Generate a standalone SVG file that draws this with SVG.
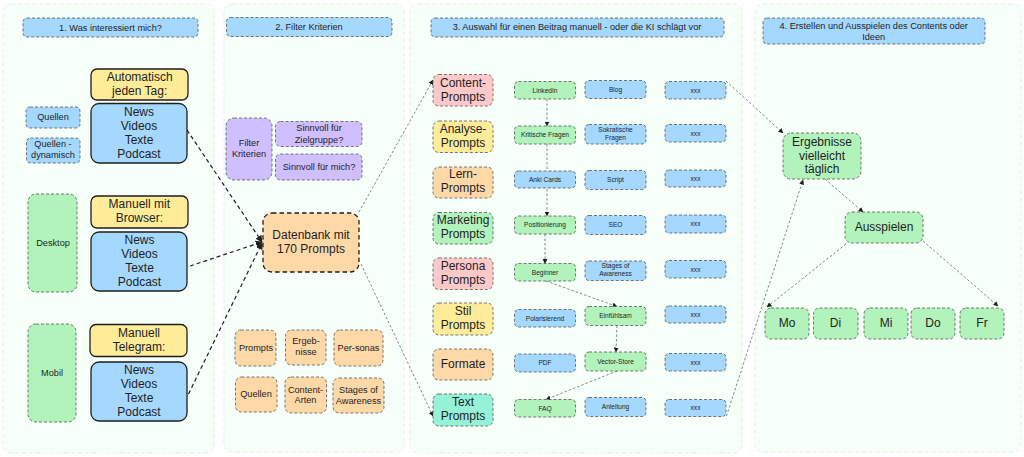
<svg xmlns="http://www.w3.org/2000/svg" width="1024" height="457" viewBox="0 0 1024 457">
<defs>
<style>
text{font-family:"Liberation Sans",Arial,sans-serif;fill:#1e1e1e;text-anchor:middle}
.l{font-size:12px}.m{font-size:9.2px}.s{font-size:6.6px}
.panel{fill:#f6fff8;stroke:#dfe8e2;stroke-width:.8;stroke-dasharray:4 3}
.d{stroke:#555;stroke-width:.8;stroke-dasharray:3 2}
.solid{stroke:#1e1e1e;stroke-width:1.3}
.bold{stroke:#1e1e1e;stroke-width:1.3;stroke-dasharray:4.5 3}
.blue{fill:#a5d8ff}.green{fill:#b2f2bb}.yellow{fill:#ffec99}.orange{fill:#ffd8a8}.pink{fill:#ffc9c9}.purple{fill:#d0bfff}.teal{fill:#96f2d7}
.c{fill:none}
.c1{stroke:#1e1e1e;stroke-width:1.2;stroke-dasharray:4 3}
.c2{stroke:#555;stroke-width:.7;stroke-dasharray:2.5 2}
</style>
<marker id="a" viewBox="0 0 10 10" refX="9" refY="5" markerWidth="5" markerHeight="5" markerUnits="userSpaceOnUse" orient="auto"><path d="M0 0L10 5L0 10z" fill="#1e1e1e"/></marker>
<marker id="b" viewBox="0 0 10 10" refX="9" refY="5" markerWidth="7" markerHeight="7" markerUnits="userSpaceOnUse" orient="auto"><path d="M0 0L10 5L0 10z" fill="#1e1e1e"/></marker>
</defs>
<g id="panels">
<rect class="panel" x="3" y="4" width="211" height="449" rx="8"/>
<rect class="panel" x="224" y="4" width="180" height="448" rx="8"/>
<rect class="panel" x="410" y="4" width="332" height="449" rx="8"/>
<rect class="panel" x="755" y="4" width="266" height="448" rx="8"/>
</g>
<g id="connectors" class="c">
<path class="c c1" marker-end="url(#b)" d="M187 130L262 242"/>
<path class="c c1" marker-end="url(#b)" d="M190 266L262 242"/>
<path class="c c1" marker-end="url(#b)" d="M188.500 394L262 243"/>
<path class="c c2" marker-end="url(#a)" d="M359 212L433 80"/>
<path class="c c2" marker-end="url(#a)" d="M361 264L433 416"/>
<path class="c c2" marker-end="url(#a)" d="M726 81L783 133"/>
<path class="c c2" marker-end="url(#a)" d="M726.500 416L803 180"/>
<path class="c c2" marker-end="url(#a)" d="M825 179L863 212"/>
<path class="c c2" marker-end="url(#a)" d="M846 244L767 307"/>
<path class="c c2" marker-end="url(#a)" d="M923 241L998 306"/>
<path class="c c2" marker-end="url(#a)" d="M547 99L547 126"/>
<path class="c c2" marker-end="url(#a)" d="M547 144L547 216"/>
<path class="c c2" marker-end="url(#a)" d="M545 234L545 263.500"/>
<path class="c c2" marker-end="url(#a)" d="M546 281L617 306.500"/>
<path class="c c2" marker-end="url(#a)" d="M617 325.500L616 352"/>
<path class="c c2" marker-end="url(#a)" d="M617 371L546 399.500"/>
</g>
<g id="header-1"><rect class="blue d" x="23" y="18" width="175" height="19" rx="4"/><text class="m" x="110.500" y="30.500">1. Was interessiert mich?</text></g>
<g id="header-2"><rect class="blue d" x="226.500" y="17.500" width="165.500" height="19" rx="4"/><text class="m" x="309" y="29.500">2. Filter Kriterien</text></g>
<g id="header-3"><rect class="blue d" x="431" y="18" width="293" height="19" rx="4"/><text class="m" x="577" y="30">3. Auswahl für einen Beitrag manuell - oder die KI schlägt vor</text></g>
<g id="header-4"><rect class="blue d" x="763" y="18" width="222" height="26" rx="4"/><text class="m" x="873.700" y="29">4. Erstellen und Ausspielen des Contents oder</text><text class="m" x="873.700" y="39.500">Ideen</text></g>

<g id="quellen"><rect class="blue d" x="26" y="107" width="54" height="21" rx="4"/><text class="m" x="53" y="120">Quellen</text></g>
<g id="quellen-dyn"><rect class="blue d" x="26.500" y="138" width="53.500" height="25" rx="4"/><text class="m" x="53" y="147">Quellen -</text><text class="m" x="53" y="158">dynamisch</text></g>
<g id="desktop"><rect class="green d" x="28" y="194" width="49" height="98" rx="8"/><text class="m" x="53" y="245.700">Desktop</text></g>
<g id="mobil"><rect class="green d" x="28" y="324" width="48" height="98" rx="8"/><text class="m" x="52" y="375.500">Mobil</text></g>
<g id="auto"><rect class="yellow solid" x="91" y="69" width="97" height="31" rx="6"/><text class="l" x="139.700" y="81">Automatisch</text><text class="l" x="139.700" y="95">jeden Tag:</text></g>
<g id="news-1"><rect class="blue solid" x="91" y="103.500" width="96" height="59.500" rx="8"/><text class="l" x="139" y="115.500">News</text><text class="l" x="139" y="129.700">Videos</text><text class="l" x="139" y="143.700">Texte</text><text class="l" x="139" y="157.700">Podcast</text></g>
<g id="browser"><rect class="yellow solid" x="91" y="196" width="97" height="32" rx="6"/><text class="l" x="139.300" y="208">Manuell mit</text><text class="l" x="139.300" y="222">Browser:</text></g>
<g id="news-2"><rect class="blue solid" x="91" y="232" width="96" height="59" rx="8"/><text class="l" x="139.500" y="244">News</text><text class="l" x="139.500" y="258">Videos</text><text class="l" x="139.500" y="272">Texte</text><text class="l" x="139.500" y="286">Podcast</text></g>
<g id="telegram"><rect class="yellow solid" x="90" y="324.500" width="97" height="32" rx="6"/><text class="l" x="139" y="336.700">Manuell</text><text class="l" x="139" y="350.700">Telegram:</text></g>
<g id="news-3"><rect class="blue solid" x="91" y="362" width="96" height="59" rx="8"/><text class="l" x="139" y="374">News</text><text class="l" x="139" y="388">Videos</text><text class="l" x="139" y="402">Texte</text><text class="l" x="139" y="416">Podcast</text></g>

<g id="filter"><rect class="purple d" x="226" y="118" width="46" height="62" rx="8"/><text class="m" x="249" y="146">Filter</text><text class="m" x="249" y="157">Kriterien</text></g>
<g id="zielgruppe"><rect class="purple d" x="275.500" y="121.500" width="86.500" height="25" rx="5"/><text class="m" x="319" y="131">Sinnvoll für</text><text class="m" x="319" y="143">Zielgruppe?</text></g>
<g id="fuer-mich"><rect class="purple d" x="275.500" y="154" width="86.500" height="26" rx="5"/><text class="m" x="319" y="169.500">Sinnvoll für mich?</text></g>
<g id="datenbank"><rect class="orange bold" x="263" y="213" width="96" height="59" rx="9"/><text class="l" x="311" y="239">Datenbank mit</text><text class="l" x="311" y="253">170 Prompts</text></g>
<g id="s-prompts"><rect class="orange d" x="235" y="330" width="41" height="36" rx="6"/><text class="m" x="256" y="350.700">Prompts</text></g>
<g id="s-ergebnisse"><rect class="orange d" x="285.500" y="330" width="40.500" height="35" rx="6"/><text class="m" x="306" y="344">Ergeb-</text><text class="m" x="306" y="355">nisse</text></g>
<g id="s-personas"><rect class="orange d" x="334" y="330" width="49" height="36" rx="6"/><text class="m" x="358.500" y="351">Per-sonas</text></g>
<g id="s-quellen"><rect class="orange d" x="235.500" y="377" width="41.500" height="35" rx="6"/><text class="m" x="256" y="396.700">Quellen</text></g>
<g id="s-content"><rect class="orange d" x="285" y="377" width="41.500" height="36" rx="6"/><text class="m" x="305.500" y="392.700">Content-</text><text class="m" x="305.500" y="403">Arten</text></g>
<g id="s-stages"><rect class="orange d" x="333" y="378" width="51" height="35" rx="6"/><text class="m" x="358.500" y="393">Stages of</text><text class="m" x="358.500" y="404">Awareness</text></g>

<g id="p-content"><rect class="pink d" x="433" y="74.500" width="60" height="31.500" rx="6"/><text class="l" x="463" y="86.700">Content-</text><text class="l" x="463" y="100.700">Prompts</text></g>
<g id="p-analyse"><rect class="yellow d" x="433" y="121" width="60" height="31.500" rx="6"/><text class="l" x="463" y="132.700">Analyse-</text><text class="l" x="463" y="146.700">Prompts</text></g>
<g id="p-lern"><rect class="orange d" x="433" y="167" width="60" height="31" rx="6"/><text class="l" x="463" y="178">Lern-</text><text class="l" x="463" y="192">Prompts</text></g>
<g id="p-marketing"><rect class="green d" x="433" y="212.500" width="60" height="31.500" rx="6"/><text class="l" x="463" y="224">Marketing</text><text class="l" x="463" y="238">Prompts</text></g>
<g id="p-persona"><rect class="pink d" x="433" y="258" width="60" height="31.500" rx="6"/><text class="l" x="463" y="270">Persona</text><text class="l" x="463" y="284">Prompts</text></g>
<g id="p-stil"><rect class="yellow d" x="433" y="303" width="60" height="32" rx="6"/><text class="l" x="463" y="315">Stil</text><text class="l" x="463" y="329">Prompts</text></g>
<g id="p-formate"><rect class="orange d" x="433" y="349" width="60" height="31" rx="6"/><text class="l" x="463" y="368">Formate</text></g>
<g id="p-text"><rect class="teal d" x="433" y="394" width="60" height="32" rx="6"/><text class="l" x="463" y="406">Text</text><text class="l" x="463" y="420">Prompts</text></g>

<g id="a1"><rect class="green d" x="514.500" y="81.500" width="61" height="17.500" rx="4"/><text class="s" x="545" y="92.500">LinkedIn</text></g>
<g id="a2"><rect class="green d" x="514.500" y="126" width="61" height="18" rx="4"/><text class="s" x="545" y="137.300">Kritische Fragen</text></g>
<g id="a3"><rect class="blue d" x="514.500" y="171" width="61" height="17" rx="4"/><text class="s" x="545" y="181.800">Anki Cards</text></g>
<g id="a4"><rect class="green d" x="514.500" y="216" width="61" height="18" rx="4"/><text class="s" x="545" y="227.300">Positionierung</text></g>
<g id="a5"><rect class="green d" x="514.500" y="263.500" width="61" height="17.500" rx="4"/><text class="s" x="545" y="274.500">Beginner</text></g>
<g id="a6"><rect class="blue d" x="514.500" y="309.500" width="61" height="17.500" rx="4"/><text class="s" x="545" y="320.500">Polarisierend</text></g>
<g id="a7"><rect class="blue d" x="514.500" y="354" width="61" height="18" rx="4"/><text class="s" x="545" y="365.300">PDF</text></g>
<g id="a8"><rect class="green d" x="514.500" y="399.500" width="61" height="17.500" rx="4"/><text class="s" x="545" y="410.500">FAQ</text></g>

<g id="b1"><rect class="blue d" x="585" y="80.500" width="61" height="18" rx="4"/><text class="s" x="615.500" y="91.800">Blog</text></g>
<g id="b2"><rect class="blue d" x="585" y="124.500" width="61" height="19.500" rx="4"/><text class="s" x="615.500" y="132">Sokratische</text><text class="s" x="615.500" y="140">Fragen</text></g>
<g id="b3"><rect class="blue d" x="585" y="170.500" width="61" height="19" rx="4"/><text class="s" x="615.500" y="182.300">Script</text></g>
<g id="b4"><rect class="blue d" x="585" y="215.500" width="61" height="19" rx="4"/><text class="s" x="615.500" y="227.300">SEO</text></g>
<g id="b5"><rect class="blue d" x="585" y="261" width="61" height="19.500" rx="4"/><text class="s" x="615.500" y="268.300">Stages of</text><text class="s" x="615.500" y="276">Awareness</text></g>
<g id="b6"><rect class="green d" x="585" y="306.500" width="61" height="19" rx="4"/><text class="s" x="615.500" y="318.300">Einfühlsam</text></g>
<g id="b7"><rect class="green d" x="585" y="352" width="61" height="19" rx="4"/><text class="s" x="615.500" y="363.800">Vector-Store</text></g>
<g id="b8"><rect class="blue d" x="585" y="397.500" width="61" height="19" rx="4"/><text class="s" x="615.500" y="409.300">Anleitung</text></g>

<g id="c1"><rect class="blue d" x="665" y="81.500" width="61" height="17.500" rx="4"/><text class="s" x="695.500" y="92.500">xxx</text></g>
<g id="c2"><rect class="blue d" x="665" y="124.500" width="61" height="17.500" rx="4"/><text class="s" x="695.500" y="135.500">xxx</text></g>
<g id="c3"><rect class="blue d" x="665" y="170" width="61" height="17" rx="4"/><text class="s" x="695.500" y="180.800">xxx</text></g>
<g id="c4"><rect class="blue d" x="665" y="215" width="61" height="18" rx="4"/><text class="s" x="695.500" y="226.300">xxx</text></g>
<g id="c5"><rect class="blue d" x="665" y="260.500" width="61" height="17.500" rx="4"/><text class="s" x="695.500" y="271.500">xxx</text></g>
<g id="c6"><rect class="blue d" x="665" y="306" width="61" height="17" rx="4"/><text class="s" x="695.500" y="316.800">xxx</text></g>
<g id="c7"><rect class="blue d" x="665" y="353.500" width="61" height="17.500" rx="4"/><text class="s" x="695.500" y="364.500">xxx</text></g>
<g id="c8"><rect class="blue d" x="665" y="399.500" width="61" height="17" rx="4"/><text class="s" x="695.500" y="410.300">xxx</text></g>

<g id="ergebnisse"><rect class="green d" x="783" y="133" width="78" height="46" rx="8"/><text class="l" x="822" y="145.500">Ergebnisse</text><text class="l" x="822" y="159.500">vielleicht</text><text class="l" x="822" y="173">täglich</text></g>
<g id="ausspielen"><rect class="green d" x="845" y="212" width="78" height="31" rx="7"/><text class="l" x="884" y="230.700">Ausspielen</text></g>
<g id="mo"><rect class="green d" x="765" y="308" width="44" height="31" rx="6"/><text class="l" x="787" y="327">Mo</text></g>
<g id="di"><rect class="green d" x="813.500" y="308" width="44.500" height="31" rx="6"/><text class="l" x="835.500" y="327">Di</text></g>
<g id="mi"><rect class="green d" x="864" y="308" width="44" height="31" rx="6"/><text class="l" x="886" y="327">Mi</text></g>
<g id="do"><rect class="green d" x="911" y="308" width="44" height="31" rx="6"/><text class="l" x="933" y="327">Do</text></g>
<g id="fr"><rect class="green d" x="960" y="308" width="44" height="31" rx="6"/><text class="l" x="982" y="327">Fr</text></g>
</svg>
